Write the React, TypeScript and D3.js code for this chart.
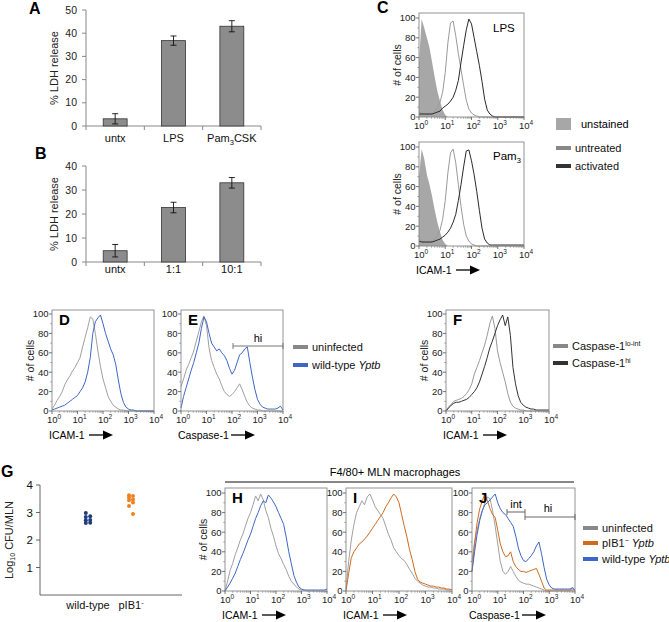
import React from 'react';
import * as d3 from 'd3';

// ---- bar panels A / B ----
const A_CATS = ['untx', 'LPS', 'Pam3CSK'];
const A_VALUES = [3.1, 36.8, 43];
const A_ERRORS = [2.2, 2, 2.4];
const A_TICKS = [0, 10, 20, 30, 40, 50];

const B_CATS = ['untx', '1:1', '10:1'];
const B_VALUES = [4.7, 22.7, 33];
const B_ERRORS = [2.6, 2.2, 2.2];
const B_TICKS = [0, 10, 20, 30, 40];

// ---- scatter G ----
const G_CATS = ['wild-type', 'pIB1-'];
const G_WILDTYPE = [2.98, 2.86, 2.84, 2.73, 2.72, 2.63, 2.62];
const G_PIB1 = [3.63, 3.6, 3.55, 3.47, 3.45, 3.36, 3.24, 2.95];
const G_TICKS = [1, 2, 3, 4];

// ---- histograms: exponent grid (log10 of fluorescence) ----
const EXPONENTS = [
  0, 0.1, 0.2, 0.3, 0.4, 0.5, 0.6, 0.7, 0.8, 0.9,
  1, 1.1, 1.2, 1.3, 1.4, 1.5, 1.6, 1.7, 1.8, 1.9,
  2, 2.1, 2.2, 2.3, 2.4, 2.5, 2.6, 2.7, 2.8, 2.9,
  3, 3.1, 3.2, 3.3, 3.4, 3.5, 3.6, 3.7, 3.8, 3.9,
  4,
];
const COUNT_TICKS = [0, 20, 40, 60, 80, 100];
const DECADES = [1, 10, 100, 1000, 10000];

const C_LPS_UNSTAINED = [
  55, 99, 90, 80, 70, 55, 40, 26, 16, 7,
  2, 0, 0, 0, 0, 0, 0, 0, 0, 0,
  0, 0, 0, 0, 0, 0, 0, 0, 0, 0,
  0, 0, 0, 0, 0, 0, 0, 0, 0, 0,
  0,
];
const C_LPS_UNTREATED = [
  5, 4, 3, 3, 3, 4, 6, 9, 15, 25,
  45, 75, 95, 97, 82, 64, 48, 32, 17, 8,
  4, 2, 1, 0, 0, 0, 0, 0, 0, 0,
  0, 0, 0, 0, 0, 0, 0, 0, 0, 0,
  0,
];
const C_LPS_ACTIVATED = [
  3, 3, 3, 3, 3, 3, 4, 5, 6, 9,
  11, 13, 16, 20, 27, 37, 55, 72, 88, 99,
  94, 80, 66, 52, 36, 18, 7, 3, 1, 0,
  0, 0, 0, 0, 0, 0, 0, 0, 0, 0,
  0,
];
const C_PAM_UNSTAINED = [
  70, 98, 88, 72, 62, 50, 36, 24, 14, 6,
  2, 0, 0, 0, 0, 0, 0, 0, 0, 0,
  0, 0, 0, 0, 0, 0, 0, 0, 0, 0,
  0, 0, 0, 0, 0, 0, 0, 0, 0, 0,
  0,
];
const C_PAM_UNTREATED = [
  7, 5, 4, 4, 4, 5, 7, 10, 16, 27,
  46, 74, 94, 98, 84, 62, 40, 22, 10, 5,
  2, 1, 0, 0, 0, 0, 0, 0, 0, 0,
  0, 0, 0, 0, 0, 0, 0, 0, 0, 0,
  0,
];
const C_PAM_ACTIVATED = [
  5, 4, 4, 4, 4, 4, 5, 6, 7, 9,
  11, 14, 18, 24, 32, 46, 62, 80, 96, 97,
  86, 72, 55, 36, 18, 7, 3, 1, 1, 1,
  1, 1, 1, 1, 1, 1, 1, 1, 1, 1,
  1,
];

const D_UNINFECTED = [
  2, 6, 11, 15, 20, 27, 32, 36, 41, 45,
  50, 55, 66, 76, 86, 97, 95, 80, 62, 46,
  33, 24, 15, 10, 6, 4, 2, 1, 1, 0,
  0, 0, 0, 0, 0, 0, 0, 0, 0, 0,
  0,
];
const D_WILDTYPE = [
  1, 2, 3, 4, 5, 6, 8, 10, 12, 14,
  16, 20, 24, 30, 40, 55, 80, 92, 96, 99,
  90, 80, 72, 64, 58, 48, 32, 18, 9, 4,
  2, 1, 1, 0, 0, 0, 0, 0, 0, 0,
  0,
];
const E_UNINFECTED = [
  25, 33, 42, 48, 55, 62, 72, 82, 92, 98,
  88, 65, 52, 45, 38, 33, 26, 20, 17, 15,
  17, 20, 24, 28, 22, 15, 9, 5, 3, 2,
  1, 1, 0, 0, 0, 0, 0, 0, 0, 0,
  0,
];
const E_WILDTYPE = [
  3, 15, 24, 33, 42, 50, 60, 70, 85, 97,
  92, 80, 70, 66, 62, 64, 60, 57, 52, 44,
  38, 42, 50, 58, 60, 64, 66, 50, 35, 22,
  12, 7, 4, 3, 2, 2, 2, 2, 3, 5,
  1,
];
const F_LOINT = [
  1, 4, 7, 10, 11, 12, 13, 15, 18, 22,
  28, 38, 45, 52, 60, 68, 78, 90, 98, 85,
  62, 50, 40, 30, 18, 9, 5, 3, 2, 1,
  1, 0, 0, 0, 0, 0, 0, 0, 0, 0,
  0,
];
const F_HI = [
  0, 3, 6, 8, 9, 9, 10, 11, 12, 14,
  17, 20, 24, 30, 38, 46, 55, 65, 72, 80,
  88, 94, 99, 88, 97, 78, 45, 28, 16, 9,
  6, 4, 3, 2, 2, 1, 1, 1, 1, 1,
  1,
];
const H_UNINFECTED = [
  0, 10, 21, 28, 37, 44, 52, 58, 66, 74,
  80, 88, 97, 92, 99, 93, 82, 75, 64, 56,
  46, 38, 33, 27, 22, 15, 10, 7, 4, 2,
  1, 1, 0, 0, 0, 0, 0, 0, 0, 0,
  0,
];
const H_WILDTYPE = [
  0, 4, 8, 13, 18, 25, 32, 38, 45, 52,
  58, 66, 74, 80, 87, 92, 90, 98, 95, 91,
  86, 80, 74, 68, 55, 40, 28, 16, 9, 4,
  2, 1, 1, 1, 1, 1, 1, 1, 1, 1,
  2,
];
const I_UNINFECTED = [
  2, 30, 52, 68, 80, 86, 92, 88, 96, 99,
  93, 86, 82, 78, 74, 66, 58, 52, 44, 40,
  36, 33, 31, 27, 22, 18, 13, 10, 8, 6,
  5, 4, 4, 3, 3, 2, 2, 2, 1, 1,
  1,
];
const I_PIB1 = [
  0, 18, 34, 40, 44, 48, 50, 53, 56, 60,
  64, 68, 72, 76, 80, 86, 90, 95, 99, 96,
  90, 78, 66, 55, 42, 32, 20, 12, 9, 8,
  7, 6, 5, 5, 4, 4, 3, 3, 2, 2,
  1,
];
const J_UNINFECTED = [
  30, 50, 62, 74, 82, 90, 96, 94, 82, 66,
  48, 30, 20, 17, 20, 25, 20, 15, 11, 9,
  8, 7, 7, 6, 5, 4, 3, 2, 1, 0,
  0, 0, 0, 0, 0, 0, 0, 0, 0, 4,
  0,
];
const J_PIB1 = [
  20, 48, 70, 84, 92, 99, 92, 84, 78, 75,
  62, 48, 40, 35, 36, 40, 30, 25, 22, 20,
  20, 19, 20, 21, 22, 23, 17, 10, 3, 1,
  1, 1, 1, 1, 1, 1, 1, 1, 1, 1,
  1,
];
const J_WILDTYPE = [
  20, 40, 58, 72, 82, 88, 90, 93, 96, 99,
  90, 84, 80, 78, 74, 70, 66, 56, 44, 36,
  31, 30, 33, 36, 40, 46, 50, 38, 24, 12,
  6, 3, 2, 2, 2, 2, 2, 2, 2, 3,
  1,
];

const FONT = 'Liberation Sans, Arial, sans-serif';
const AXIS = '#888';

type Curve = { values: number[]; color: string; fill?: boolean };

function Arrow({ x, y }: { x: number; y: number }) {
  return (
    <g>
      <line x1={x} x2={x + 15} y1={y} y2={y} stroke="#000" strokeWidth={1.3} />
      <path d={`M${x + 14},${y - 4.5}L${x + 24},${y}L${x + 14},${y + 4.5}Z`} fill="#000" />
    </g>
  );
}

function Hist(props: {
  x0: number; x1: number; top: number; y0: number; y100: number;
  curves: Curve[]; letter?: string; yLabel?: boolean; xLabel?: string;
}) {
  const { x0, x1, top, y0, y100, curves, letter, yLabel, xLabel } = props;
  const x = d3.scaleLog().domain([1, 10000]).range([x0, x1]);
  const y = d3.scaleLinear().domain([0, 100]).range([y0, y100]);
  const line = d3.line<number>()
    .x((_, i) => x(Math.pow(10, EXPONENTS[i])))
    .y((d) => y(d));
  const area = d3.area<number>()
    .x((_, i) => x(Math.pow(10, EXPONENTS[i])))
    .y0(y0)
    .y1((d) => y(d));
  const minor: number[] = [];
  for (let k = 0; k < 4; k++) for (let m = 2; m < 10; m++) minor.push(m * Math.pow(10, k));
  const yMinor = d3.range(10, 100, 10).filter((v) => v % 20 !== 0);
  const labelW = xLabel === 'Caspase-1' ? 49 : 36;
  return (
    <g fontFamily={FONT}>
      {curves.map((c, i) =>
        c.fill ? (
          <path key={i} d={area(c.values) || ''} fill={c.color} stroke="none" />
        ) : (
          <path key={i} d={line(c.values) || ''} fill="none" stroke={c.color} strokeWidth={1} strokeLinejoin="round" />
        )
      )}
      <rect x={x0} y={top} width={x1 - x0} height={y0 - top} fill="none" stroke={AXIS} strokeWidth={0.9} />
      {DECADES.map((d) => (
        <g key={d}>
          <line x1={x(d)} x2={x(d)} y1={y0} y2={y0 + 3} stroke="#555" strokeWidth={0.8} />
          <text x={x(d) + 2} y={y0 + 12} fontSize={9.5} textAnchor="middle" fill="#222">
            10<tspan dy={-4} fontSize={6.5}>{Math.round(Math.log10(d))}</tspan>
          </text>
        </g>
      ))}
      {minor.map((d) => (
        <line key={d} x1={x(d)} x2={x(d)} y1={y0} y2={y0 + 1.8} stroke="#777" strokeWidth={0.6} />
      ))}
      {COUNT_TICKS.map((t) => (
        <g key={t}>
          <line x1={x0 - 3} x2={x0} y1={y(t)} y2={y(t)} stroke="#555" strokeWidth={0.8} />
          <text x={x0 - 3.5} y={y(t)} dy="0.35em" fontSize={9.5} textAnchor="end" fill="#222">{t}</text>
        </g>
      ))}
      {yMinor.map((t) => (
        <line key={t} x1={x0 - 1.8} x2={x0} y1={y(t)} y2={y(t)} stroke="#777" strokeWidth={0.6} />
      ))}
      {letter && (
        <text x={x0 + 7} y={top + 15} fontSize={15} fontWeight="bold" fill="#000">{letter}</text>
      )}
      {yLabel && (
        <text transform={`translate(${x0 - 18},${(top + y0) / 2}) rotate(-90)`} fontSize={10.5} textAnchor="middle" fill="#222">
          # of cells
        </text>
      )}
      {xLabel && (
        <g>
          <text x={x0 - 3} y={y0 + 28} fontSize={10.5} fill="#000">{xLabel}</text>
          <Arrow x={x0 - 3 + labelW + 4} y={y0 + 24} />
        </g>
      )}
    </g>
  );
}

function catLabel(c: string) {
  if (c === 'Pam3CSK') {
    return (
      <>Pam<tspan dy={3} fontSize={7.5}>3</tspan><tspan dy={-3}>CSK</tspan></>
    );
  }
  return c;
}

function BarPanel(props: {
  cats: string[]; values: number[]; errors: number[]; ticks: number[];
  top: number; bottom: number; left: number; right: number;
  letter: string; letterX: number; letterY: number; labelGap: number;
}) {
  const { cats, values, errors, ticks, top, bottom, left, right, letter, letterX, letterY, labelGap } = props;
  const x = d3.scaleBand().domain(cats).range([left, right]).paddingInner(0.59).paddingOuter(0.295);
  const y = d3.scaleLinear().domain([0, ticks[ticks.length - 1]]).range([bottom, top]);
  const step = (right - left) / cats.length;
  return (
    <g fontFamily={FONT}>
      <text x={letterX} y={letterY} fontSize={16} fontWeight="bold">{letter}</text>
      <line x1={left} x2={left} y1={top} y2={bottom} stroke={AXIS} />
      <line x1={left} x2={right} y1={bottom} y2={bottom} stroke={AXIS} />
      {ticks.map((t) => (
        <g key={t}>
          <line x1={left - 4} x2={left} y1={y(t)} y2={y(t)} stroke={AXIS} />
          <text x={left - 9} y={y(t)} dy="0.35em" fontSize={10.5} textAnchor="end" fill="#222">{t}</text>
        </g>
      ))}
      {d3.range(cats.length + 1).map((i) => (
        <line key={i} x1={left + i * step} x2={left + i * step} y1={bottom} y2={bottom + 4} stroke={AXIS} />
      ))}
      {cats.map((c, i) => {
        const cx = (x(c) as number) + x.bandwidth() / 2;
        return (
          <g key={c}>
            <rect x={x(c)} y={y(values[i])} width={x.bandwidth()} height={bottom - y(values[i])} fill="#8c8c8c" stroke="#333" strokeWidth={0.8} />
            <line x1={cx} x2={cx} y1={y(values[i] + errors[i])} y2={y(values[i] - errors[i])} stroke="#111" strokeWidth={0.9} />
            <line x1={cx - 3} x2={cx + 3} y1={y(values[i] + errors[i])} y2={y(values[i] + errors[i])} stroke="#111" strokeWidth={0.9} />
            <line x1={cx - 3} x2={cx + 3} y1={y(values[i] - errors[i])} y2={y(values[i] - errors[i])} stroke="#111" strokeWidth={0.9} />
            <text x={cx} y={bottom + labelGap} fontSize={11} textAnchor="middle" fill="#111">{catLabel(c)}</text>
          </g>
        );
      })}
      <text transform={`translate(${left - 28},${(top + bottom) / 2}) rotate(-90)`} fontSize={11} textAnchor="middle" fill="#222">
        % LDH release
      </text>
    </g>
  );
}

function LegendLine({ x, y, color, children }: { x: number; y: number; color: string; children: React.ReactNode }) {
  return (
    <g fontFamily={FONT}>
      <line x1={x} x2={x + 15} y1={y} y2={y} stroke={color} strokeWidth={4} />
      <text x={x + 19} y={y} dy="0.35em" fontSize={11} fill="#111">{children}</text>
    </g>
  );
}

function Scatter() {
  const x = d3.scalePoint().domain(G_CATS).range([88, 131]);
  const y = d3.scaleLinear().domain([0, 4]).range([595, 485]);
  const jitter = (i: number) => (i % 2 === 0 ? -2.2 : 2.2);
  return (
    <g fontFamily={FONT}>
      <text x={1} y={477} fontSize={16} fontWeight="bold">G</text>
      <line x1={40} x2={40} y1={485} y2={595} stroke="#555" strokeWidth={0.9} />
      <line x1={40} x2={182} y1={595} y2={595} stroke="#555" strokeWidth={0.9} />
      {G_TICKS.map((t) => (
        <g key={t}>
          <line x1={36} x2={40} y1={y(t)} y2={y(t)} stroke="#555" strokeWidth={0.9} />
          <text x={33} y={y(t)} dy="0.35em" fontSize={11.5} textAnchor="end" fill="#111">{t}</text>
        </g>
      ))}
      <text transform={`translate(13,${540}) rotate(-90)`} fontSize={11} textAnchor="middle" fill="#222">
        Log<tspan dy={2} fontSize={7}>10</tspan><tspan dy={-2}> CFU/MLN</tspan>
      </text>
      {G_WILDTYPE.map((v, i) => (
        <circle key={'w' + i} cx={(x('wild-type') as number) + jitter(i)} cy={y(v)} r={2} fill="#1d3d7a" />
      ))}
      {G_PIB1.map((v, i) => (
        <circle key={'p' + i} cx={(x('pIB1-') as number) + jitter(i) * 0.9} cy={y(v)} r={2} fill="#ee8220" />
      ))}
      <text x={x('wild-type')} y={609} fontSize={11} textAnchor="middle" fill="#111">wild-type</text>
      <text x={x('pIB1-')} y={609} fontSize={11} textAnchor="middle" fill="#111">
        pIB1<tspan dy={-4} fontSize={7}>-</tspan>
      </text>
    </g>
  );
}

export default function App() {
  const GRAY_C = '#a7a7a7';
  const DARK = '#2a2a2a';
  const LGRAY = '#a0a0a0';
  const BLUE = '#3e66c6';
  const ORANGE = '#d06a1c';
  return (
    <svg width={669} height={622} viewBox="0 0 669 622" style={{ position: 'absolute', left: 0, top: 0, background: '#fff' }}>
      <rect width={669} height={622} fill="#fff" />
      <BarPanel cats={A_CATS} values={A_VALUES} errors={A_ERRORS} ticks={A_TICKS}
        top={10} bottom={126} left={86} right={261} letter="A" letterX={29} letterY={14} labelGap={16} />
      <BarPanel cats={B_CATS} values={B_VALUES} errors={B_ERRORS} ticks={B_TICKS}
        top={166} bottom={262} left={86} right={261} letter="B" letterX={35} letterY={159} labelGap={11} />

      {/* C */}
      <text x={377} y={13} fontFamily={FONT} fontSize={16} fontWeight="bold">C</text>
      <Hist x0={419} x1={524} top={13} y0={117} y100={18} yLabel
        curves={[
          { values: C_LPS_UNSTAINED, color: GRAY_C, fill: true },
          { values: C_LPS_UNTREATED, color: '#9a9a9a' },
          { values: C_LPS_ACTIVATED, color: DARK },
        ]} />
      <text x={493} y={32} fontFamily={FONT} fontSize={11.5}>LPS</text>
      <Hist x0={419} x1={524} top={142} y0={246} y100={147} yLabel xLabel="ICAM-1"
        curves={[
          { values: C_PAM_UNSTAINED, color: GRAY_C, fill: true },
          { values: C_PAM_UNTREATED, color: '#9a9a9a' },
          { values: C_PAM_ACTIVATED, color: DARK },
        ]} />
      <text x={493} y={160} fontFamily={FONT} fontSize={11.5}>Pam<tspan dy={3} fontSize={7.5}>3</tspan></text>
      <rect x={556} y={118} width={15} height={12} fill={GRAY_C} />
      <text x={581} y={124} dy="0.35em" fontFamily={FONT} fontSize={11}>unstained</text>
      <LegendLine x={556} y={148} color="#888">untreated</LegendLine>
      <LegendLine x={556} y={166} color="#333">activated</LegendLine>

      {/* D, E */}
      <Hist x0={52} x1={154} top={310} y0={411} y100={314} letter="D" yLabel xLabel="ICAM-1"
        curves={[
          { values: D_UNINFECTED, color: LGRAY },
          { values: D_WILDTYPE, color: BLUE },
        ]} />
      <Hist x0={181} x1={283} top={310} y0={411} y100={314} letter="E" xLabel="Caspase-1"
        curves={[
          { values: E_UNINFECTED, color: LGRAY },
          { values: E_WILDTYPE, color: BLUE },
        ]} />
      <g fontFamily={FONT}>
        <line x1={233} x2={283} y1={346} y2={346} stroke="#777" strokeWidth={1} />
        <line x1={233} x2={233} y1={343} y2={349} stroke="#777" strokeWidth={1} />
        <line x1={283} x2={283} y1={343} y2={349} stroke="#777" strokeWidth={1} />
        <text x={258} y={342} fontSize={11} textAnchor="middle">hi</text>
      </g>
      <LegendLine x={293} y={347} color="#888">uninfected</LegendLine>
      <LegendLine x={293} y={365} color={BLUE}>wild-type <tspan fontStyle="italic">Yptb</tspan></LegendLine>

      {/* F */}
      <Hist x0={446} x1={549} top={310} y0={411} y100={314} letter="F" yLabel xLabel="ICAM-1"
        curves={[
          { values: F_LOINT, color: '#999' },
          { values: F_HI, color: '#333' },
        ]} />
      <LegendLine x={553} y={346} color="#888">Caspase-1<tspan dy={-4} fontSize={7}>lo-int</tspan></LegendLine>
      <LegendLine x={553} y={363} color="#333">Caspase-1<tspan dy={-4} fontSize={7}>hi</tspan></LegendLine>

      {/* G */}
      <Scatter />

      {/* H, I, J */}
      <text x={395} y={476} fontFamily={FONT} fontSize={11} textAnchor="middle">F4/80+ MLN macrophages</text>
      <line x1={225} x2={574} y1={482} y2={482} stroke="#111" strokeWidth={1} />
      <Hist x0={225} x1={327} top={488} y0={591} y100={493} letter="H" yLabel xLabel="ICAM-1"
        curves={[
          { values: H_UNINFECTED, color: LGRAY },
          { values: H_WILDTYPE, color: BLUE },
        ]} />
      <Hist x0={346} x1={452} top={488} y0={591} y100={493} letter="I" xLabel="ICAM-1"
        curves={[
          { values: I_UNINFECTED, color: LGRAY },
          { values: I_PIB1, color: ORANGE },
        ]} />
      <Hist x0={472} x1={575} top={488} y0={591} y100={493} letter="J" xLabel="Caspase-1"
        curves={[
          { values: J_UNINFECTED, color: LGRAY },
          { values: J_PIB1, color: ORANGE },
          { values: J_WILDTYPE, color: BLUE },
        ]} />
      <g fontFamily={FONT} stroke="#666" strokeWidth={1}>
        <line x1={507} x2={525} y1={512} y2={512} />
        <line x1={507} x2={507} y1={509} y2={515} />
        <line x1={525} x2={575} y1={517} y2={517} />
        <line x1={525} x2={525} y1={509} y2={520} />
        <line x1={575} x2={575} y1={514} y2={520} />
      </g>
      <text x={516} y={508} fontFamily={FONT} fontSize={11} textAnchor="middle">int</text>
      <text x={548} y={512} fontFamily={FONT} fontSize={11} textAnchor="middle">hi</text>
      <LegendLine x={583} y={528} color="#888">uninfected</LegendLine>
      <LegendLine x={583} y={543} color={ORANGE}>pIB1<tspan dy={-4} fontSize={7}>−</tspan><tspan dy={4}> </tspan><tspan fontStyle="italic">Yptb</tspan></LegendLine>
      <LegendLine x={583} y={559} color={BLUE}>wild-type <tspan fontStyle="italic">Yptb</tspan></LegendLine>
    </svg>
  );
}
